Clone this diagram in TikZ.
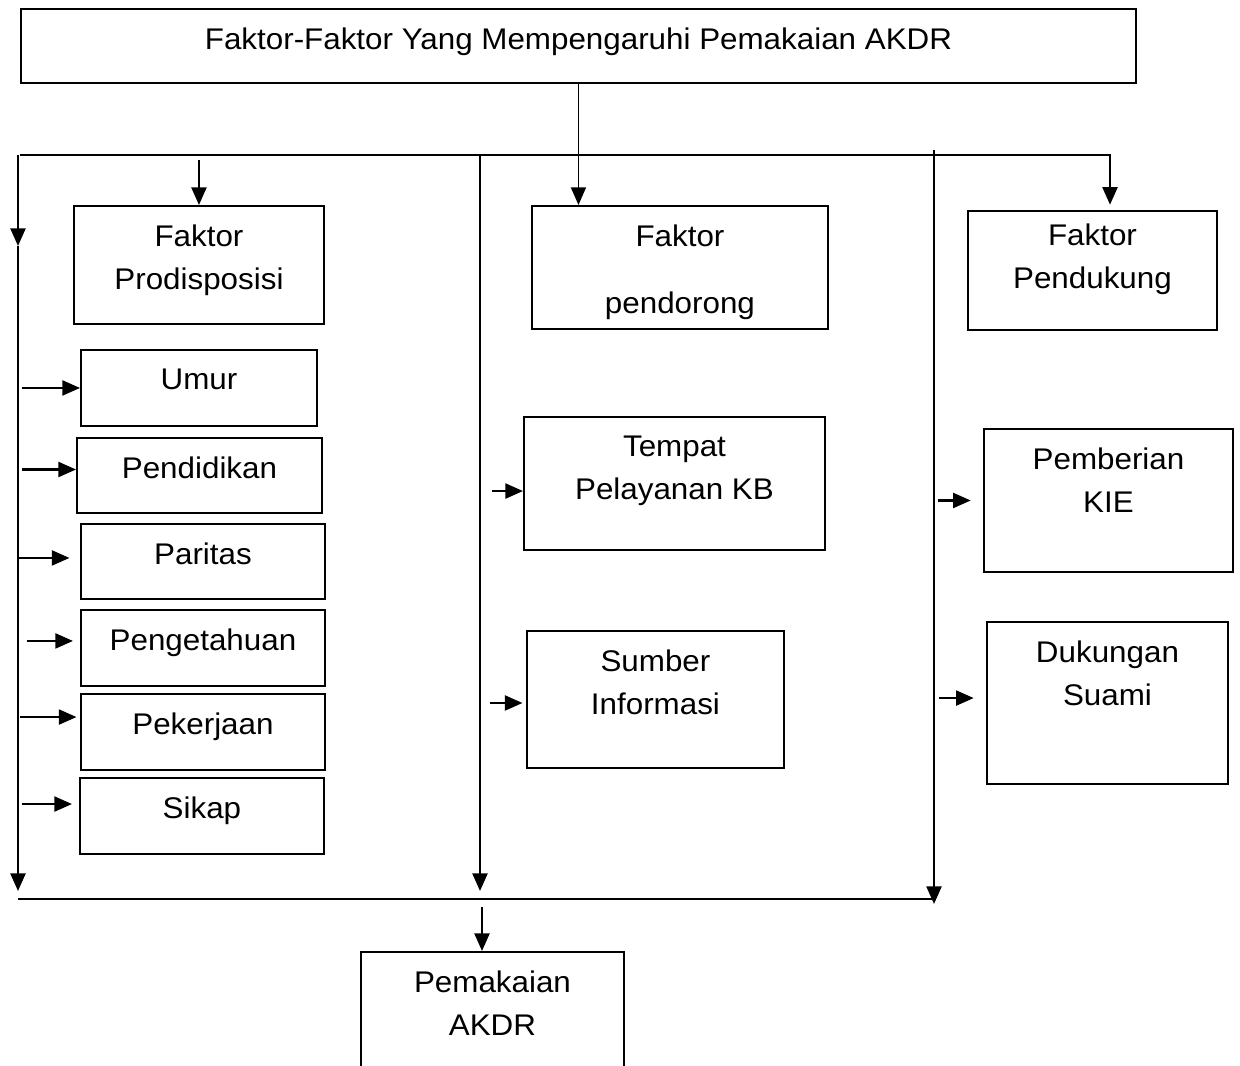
\documentclass[tikz,border=0pt]{standalone}
\usepackage{fontspec}
\setmainfont{Liberation Sans}[FakeStretch=1.05]
\usetikzlibrary{arrows.meta, positioning}

\newlength{\unitpx}
\setlength{\unitpx}{0.02cm}

\begin{document}
\begin{tikzpicture}[
  x=0.02cm, y=-0.02cm,
  box/.style n args={2}{draw, line width=1.1pt, anchor=north west, inner sep=0pt,
    minimum width=#1\unitpx, minimum height=#2\unitpx},
  every label/.style={anchor=north, inner sep=0pt, yshift=-19.5\unitpx, align=center,
    font=\fontsize{17pt}{24.4pt}\selectfont},
  arr/.style={-{Triangle[length=10pt, width=8.5pt]}, line width=1.3pt},
  bus/.style={line width=1.3pt}
]
\useasboundingbox (0,0) rectangle (1240,1065);

% title
\node[box={1115}{74}, label={north:Faktor-Faktor Yang Mempengaruhi Pemakaian AKDR}] (title) at (20,8) {};

% left column
\node[box={250}{118}, label={north:Faktor\\Prodisposisi}] (prod) at (73,205) {};
\node[box={236}{76}, label={north:Umur}] (umur) at (80,349) {};
\node[box={245}{75}, label={north:Pendidikan}] (pendidikan) at (76,437) {};
\node[box={244}{75}, label={north:Paritas}] (paritas) at (80,523) {};
\node[box={244}{76}, label={north:Pengetahuan}] (pengetahuan) at (80,609) {};
\node[box={244}{76}, label={north:Pekerjaan}] (pekerjaan) at (80,693) {};
\node[box={244}{76}, label={north:Sikap}] (sikap) at (79,777) {};

% middle column
\node[box={296}{123}, label={north:Faktor\\[24\unitpx]pendorong}] (pendorong) at (531,205) {};
\node[box={301}{133}, label={north:Tempat\\Pelayanan KB}] (tempat) at (523,416) {};
\node[box={257}{137}, label={north:Sumber\\Informasi}] (sumber) at (526,630) {};

% right column
\node[box={249}{119}, label={[yshift=6\unitpx]north:Faktor\\Pendukung}] (pendukung) at (967,210) {};
\node[box={249}{143}, label={north:Pemberian\\KIE}] (pemberian) at (983,428) {};
\node[box={241}{162}, label={north:Dukungan\\Suami}] (dukungan) at (986,621) {};

% result
\node[box={263}{160}, label={north:Pemakaian\\AKDR}] (pemakaian) at (360,951) {};

% bus lines
\coordinate (busL) at (20,155);
\coordinate (busR) at (1110,155);
\coordinate (lftTop) at (18,155);
\coordinate (lftMid) at (18,246);
\coordinate (lftBot) at (18,891);
\coordinate (midTop) at (480,155);
\coordinate (midBot) at (480,891);
\coordinate (rgtTop) at (934,150);
\coordinate (rgtBot) at (934,904);
\coordinate (botL) at (18,899);
\coordinate (botR) at (933,899);
\coordinate (botM) at (482,907);

\draw[arr, line width=0.9pt] (title.south) -- (title.south |- pendorong.north);
\draw[arr, shorten >=3pt] (busL) -- (busR) -- (busR |- pendukung.north);
\draw[arr] ([yshift=-3pt]busL -| prod.north) -- (prod.north);

\draw[arr] (lftTop) -- (lftMid);
\draw[arr] (lftMid) -- (lftBot);
\draw[arr] (midTop) -- (midBot);
\draw[arr] (rgtTop) -- (rgtBot);

\draw[bus] (botL) -- (botR);
\draw[arr] (botM) -- (botM |- pemakaian.north);

% factors on the left
\draw[arr] ([xshift=2pt]lftMid |- umur.west) -- (umur.west);
\draw[arr] ([xshift=2pt,yshift=3.4pt]lftMid |- pendidikan.west) -- ([yshift=3.4pt]pendidikan.west);
\draw[arr, shorten >=6pt] ([xshift=0.5pt,yshift=2pt]lftMid |- paritas.west) -- ([yshift=2pt]paritas.west);
\draw[arr, shorten >=4pt] ([xshift=5pt,yshift=4pt]lftMid |- pengetahuan.west) -- ([yshift=4pt]pengetahuan.west);
\draw[arr, shorten >=2pt] ([xshift=1pt,yshift=8.5pt]lftMid |- pekerjaan.west) -- ([yshift=8.5pt]pekerjaan.west);
\draw[arr, shorten >=4pt] ([xshift=2pt,yshift=6.8pt]lftMid |- sikap.west) -- ([yshift=6.8pt]sikap.west);

% factors in the middle
\draw[arr] ([xshift=7pt,yshift=-4.3pt]midTop |- tempat.west) -- ([yshift=-4.3pt]tempat.west);
\draw[arr, shorten >=2pt] ([xshift=5.5pt,yshift=-2pt]midTop |- sumber.west) -- ([yshift=-2pt]sumber.west);

% factors on the right
\draw[arr, shorten >=7pt] ([xshift=2pt]rgtTop |- pemberian.west) -- (pemberian.west);
\draw[arr, shorten >=7pt] ([xshift=3pt,yshift=2.8pt]rgtTop |- dukungan.west) -- ([yshift=2.8pt]dukungan.west);
\end{tikzpicture}
\end{document}
